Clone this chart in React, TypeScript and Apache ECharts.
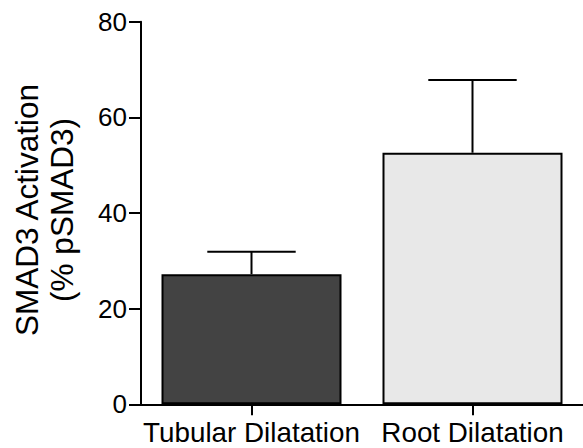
import React, { useEffect, useRef } from "react";
import * as echarts from "echarts";

const categories = ["Tubular Dilatation", "Root Dilatation"];
const meanValues = [27.2, 52.6];
const errorValues = [4.7, 15.2];
const barColors = ["#434343", "#e8e8e8"];
const yTicks = { min: 0, max: 80, interval: 20 };
const yAxisTitle = ["SMAD3 Activation", "(% pSMAD3)"];

export default function App() {
  const ref = useRef<HTMLDivElement>(null);
  useEffect(() => {
    if (!ref.current) return;
    const chart = echarts.init(ref.current, null, { renderer: "svg" });
    const font = "'Liberation Sans', Arial, Helvetica, sans-serif";
    chart.setOption({
      animation: false,
      backgroundColor: "#ffffff",
      grid: { left: 141, top: 21.7, bottom: 43.7, right: -8.5, containLabel: false },
      xAxis: {
        type: "category",
        data: categories,
        axisLine: { show: true, lineStyle: { color: "#000", width: 2 } },
        axisTick: { show: true, alignWithLabel: true, length: 11, lineStyle: { color: "#000", width: 2 } },
        axisLabel: {
          color: "#000",
          fontSize: 27.8,
          fontFamily: font,
          margin: 14,
          interval: 0,
          hideOverlap: false,
        },
        splitLine: { show: false },
      },
      yAxis: {
        type: "value",
        min: yTicks.min,
        max: yTicks.max,
        interval: yTicks.interval,
        axisLine: { show: true, lineStyle: { color: "#000", width: 2 } },
        axisTick: { show: true, length: 12, lineStyle: { color: "#000", width: 2 } },
        axisLabel: { color: "#000", fontSize: 26, fontFamily: font, margin: 14 },
        splitLine: { show: false },
      },
      graphic: [
        {
          type: "text",
          x: 44,
          y: 210,
          rotation: Math.PI / 2,
          style: {
            text: yAxisTitle.join("\n"),
            fill: "#000",
            fontSize: 31.5,
            fontFamily: font,
            align: "center",
            verticalAlign: "middle",
            lineHeight: 35,
          },
        },
      ],
      series: [
        {
          type: "bar",
          data: meanValues.map((v, i) => ({ value: v, itemStyle: { color: barColors[i] } })),
          barWidth: 180,
          itemStyle: { borderColor: "#000", borderWidth: 2 },
          z: 2,
        },
        {
          type: "custom",
          data: meanValues.map((v, i) => [i, v, v + errorValues[i]]),
          z: 3,
          renderItem: (params: any, api: any) => {
            const idx = api.value(0);
            const base = api.coord([idx, api.value(1)]);
            const top = api.coord([idx, api.value(2)]);
            const half = api.size([1, 0])[0] * 0.2;
            const style = { stroke: "#000", lineWidth: 2 };
            return {
              type: "group",
              children: [
                { type: "line", shape: { x1: base[0], y1: base[1], x2: top[0], y2: top[1] }, style },
                { type: "line", shape: { x1: top[0] - half, y1: top[1], x2: top[0] + half, y2: top[1] }, style },
              ],
            };
          },
        },
      ],
    });
    return () => chart.dispose();
  }, []);
  return <div ref={ref} style={{ width: 583, height: 448, position: "absolute", left: 0, top: 0 }} />;
}
